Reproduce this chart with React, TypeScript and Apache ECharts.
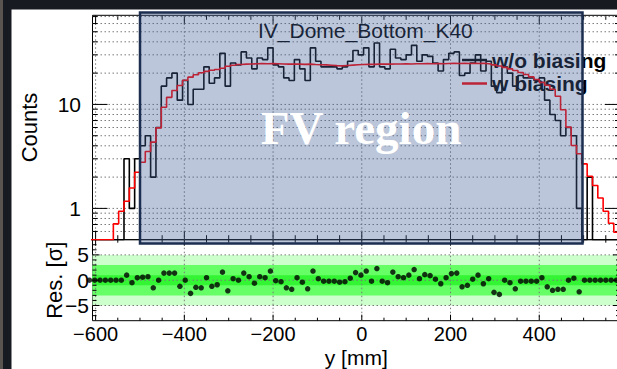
import React, { useEffect, useRef } from 'react';
import * as echarts from 'echarts';

// ---------- data ----------
const binStart = -620; // mm, left edge of first bin
const binWidth = 12; // mm

// "w/o biasing" (black histogram), counts per bin
const woBiasing = [
  0, 0, 0, 0, 0, 0, 0, 3, 1, 3,
  4, 5, 2, 6, 15, 18, 20, 11, 17, 10,
  14, 14, 23, 16, 18, 31, 15, 25, 24, 32,
  28, 22, 28, 27, 35, 24, 23, 18, 17, 27,
  22, 17, 35, 26, 23, 23, 23, 22, 23, 26,
  33, 30, 35, 23, 39, 23, 22, 34, 28, 27,
  30, 37, 26, 30, 29, 25, 21, 27, 31, 32,
  19, 20, 25, 30, 21, 26, 15, 13, 23, 20,
  15, 19, 18, 18, 17, 18, 11, 8, 7, 5,
  6, 5, 1, 0, 2, 0, 0, 0, 0, 0,
];

// "w biasing" (red histogram)
const wBiasing = [
  0, 0, 0, 0, 0, 0.71, 0.94, 1.17, 1.57, 2.23,
  2.78, 3.53, 4.34, 5.95, 9.4, 11.7, 13.6, 15.2, 17.1, 18.3,
  19.3, 20.2, 20.8, 21.3, 21.7, 22.3, 23.3, 23.8, 24.2, 24.4,
  24.5, 24.6, 24.7, 24.6, 24.7, 24.6, 24.5, 24.4, 24.5, 24.4,
  24.3, 24.4, 24.2, 24.1, 24.0, 23.8, 23.6, 23.5, 23.7, 23.9,
  24.1, 24.2, 24.3, 24.3, 24.4, 24.5, 24.4, 24.5, 24.5, 24.6,
  24.5, 24.6, 24.6, 24.7, 24.6, 24.7, 24.6, 24.8, 24.9, 24.8,
  24.9, 24.8, 24.9, 24.8, 24.8, 24.5, 24.0, 23.4, 22.7, 22.0,
  21.2, 20.3, 19.4, 18.4, 17.4, 16.3, 15.3, 14.0, 12.0, 8.9,
  6.05, 4.03, 3.35, 2.68, 2.04, 1.66, 1.26, 0.94, 0.72, 0.59,
];

// residuals in sigma
const residuals = [
  0, 0, 0, 0, 0, 0, 0, 1.0, -0.5, 0.5,
  0.6, 0.7, -1.5, 0, 1.4, 1.4, 1.4, -1.2, 0, -2.6,
  -1.4, -1.5, 0.5, -1.2, -0.9, 1.6, -2.1, 0.3, 0, 1.4,
  0.7, -0.6, 0.7, 0.5, 1.8, -0.1, -0.3, -1.5, -1.8, 0.5,
  -0.4, -1.7, 1.8, 0.3, -0.2, -0.2, -0.2, -0.4, -0.3, 0.4,
  1.5, 1.0, 1.8, -0.2, 2.3, -0.2, -0.5, 1.6, 0.7, 0.5,
  1.0, 2.1, 0.3, 1.1, 0.9, 0.2, -0.7, 0.5, 1.3, 1.4,
  -1.3, -1.0, 0.2, 1.0, -0.7, 0.3, -2.4, -2.8, 0, -0.5,
  -1.7, -0.2, -0.2, -0.2, -0.2, 0.5, -1.3, -2.0, -1.8, -1.8,
  0, 0.4, -2.3, 0, 0, 0, 0, 0, 0, 0,
];

const xMin = -607;
const xMax = 582;
const countMin = 0.5;
const countMax = 72;
const resMin = -8;
const resMax = 8;

const xTicks = [
  -600, -550, -500, -450, -400, -350, -300, -250, -200, -150, -100, -50,
  0, 50, 100, 150, 200, 250, 300, 350, 400, 450, 500, 550,
];
const xMajorTicks = [-600, -400, -200, 0, 200, 400];
const countTicks = [0.6, 0.7, 0.8, 0.9, 1, 2, 3, 4, 5, 6, 7, 8, 9, 10, 20, 30, 40, 50, 60, 70];
const countMajorTicks = [1, 10];
const resTicks = [-7, -6, -5, -4, -3, -2, -1, 0, 1, 2, 3, 4, 5, 6, 7];
const resMajorTicks = [-5, 0, 5];
const sigmaBands = [5, 3, 1];

// ---------- styles ----------
const FONT = '"Liberation Sans", Arial, Helvetica, sans-serif';
const bandColors = ['#ccffcc', '#66ff66', '#33f533'];
const dotted = { stroke: '#7a7a7a', lineWidth: 1, lineDash: [1.5, 2.5] };
const solid = { stroke: '#000', lineWidth: 1 };

const minus = (v: number) => (v < 0 ? '\u2212' + Math.abs(v) : String(v));

function ln(x1: number, y1: number, x2: number, y2: number, style: any) {
  return { type: 'line', shape: { x1, y1, x2, y2 }, style };
}

function stepData(vals: number[]) {
  const pts = vals.map((v, i) => [binStart + i * binWidth, Math.max(v, countMin)]);
  pts.push([binStart + vals.length * binWidth, Math.max(vals[vals.length - 1], countMin)]);
  return pts;
}

function xTickSeries(gi: number, yRef: number, majorLen: number, minorLen: number) {
  return {
    type: 'custom',
    xAxisIndex: gi,
    yAxisIndex: gi,
    z: 1,
    silent: true,
    data: xTicks.map((v) => [v, yRef, xMajorTicks.includes(v) ? 1 : 0]),
    encode: { x: 0, y: 1 },
    renderItem: (params: any, api: any) => {
      const cs = params.coordSys;
      const x = api.coord([api.value(0), yRef])[0];
      const major = api.value(2) === 1;
      const len = major ? majorLen : minorLen;
      const top = cs.y;
      const bot = cs.y + cs.height;
      const children: any[] = [];
      if (major) children.push(ln(x, top, x, bot, dotted));
      children.push(ln(x, bot, x, bot - len, solid));
      children.push(ln(x, top, x, top + len, solid));
      return { type: 'group', children };
    },
  };
}

function yTickSeries(gi: number, ticks: number[], majors: number[], majorLen: number, minorLen: number, gridAtAll: boolean) {
  return {
    type: 'custom',
    xAxisIndex: gi,
    yAxisIndex: gi,
    z: 1,
    silent: true,
    data: ticks.map((v) => [xMin, v, majors.includes(v) ? 1 : 0]),
    encode: { x: 0, y: 1 },
    renderItem: (params: any, api: any) => {
      const cs = params.coordSys;
      const y = api.coord([api.value(0), api.value(1)])[1];
      const major = api.value(2) === 1;
      const len = major ? majorLen : minorLen;
      const left = cs.x;
      const right = cs.x + cs.width;
      const children: any[] = [];
      if (gridAtAll || major) children.push(ln(left, y, right, y, dotted));
      children.push(ln(left, y, left + len, y, solid));
      children.push(ln(right - len, y, right, y, solid));
      return { type: 'group', children };
    },
  };
}

export default function App() {
  const ref = useRef<HTMLDivElement>(null);

  useEffect(() => {
    if (!ref.current) return;
    const chart = echarts.init(ref.current, undefined, { renderer: 'svg' });

    const option: any = {
      animation: false,
      backgroundColor: '#181a22',
      title: {
        text: 'IV_Dome_Bottom_K40',
        left: 258,
        top: 20,
        padding: 0,
        textStyle: { fontFamily: FONT, fontSize: 21, fontWeight: 'normal', color: '#000' },
      },
      legend: {
        orient: 'vertical',
        left: 462,
        top: 48.5,
        padding: 0,
        itemWidth: 25,
        itemHeight: 2.5,
        itemGap: 0.5,
        selectedMode: false,
        textStyle: { fontFamily: FONT, fontSize: 21, fontWeight: 'bold', color: '#000', lineHeight: 23 },
        data: [
          { name: 'w/o biasing', icon: 'rect', itemStyle: { color: '#000' } },
          { name: 'w biasing', icon: 'rect', itemStyle: { color: '#ff0000' } },
        ],
      },
      grid: [
        { left: 92.5, top: 15.3, width: 527.5, height: 224.4, show: true, borderColor: '#000', borderWidth: 1, backgroundColor: 'transparent', outerBoundsMode: 'none' },
        { left: 92.5, top: 239.7, width: 527.5, height: 81, show: true, borderColor: '#000', borderWidth: 1, backgroundColor: 'transparent', outerBoundsMode: 'none' },
      ],
      xAxis: [
        {
          gridIndex: 0, type: 'value', min: xMin, max: xMax,
          axisLine: { show: false }, axisTick: { show: false }, splitLine: { show: false },
          axisLabel: { show: false },
        },
        {
          gridIndex: 1, type: 'value', min: xMin, max: xMax,
          axisLine: { show: false }, axisTick: { show: false }, splitLine: { show: false },
          axisLabel: {
            show: true, showMinLabel: false, showMaxLabel: false, margin: 5,
            fontFamily: FONT, fontSize: 20, lineHeight: 16, color: '#000', formatter: (v: number) => minus(v),
          },
          name: 'y [mm]', nameLocation: 'middle', nameGap: 26.5, nameMoveOverlap: false,
          nameTextStyle: { fontFamily: FONT, fontSize: 21, lineHeight: 20, color: '#000' },
        },
      ],
      yAxis: [
        {
          gridIndex: 0, type: 'log', logBase: 10, min: countMin, max: countMax,
          axisLine: { show: false }, axisTick: { show: false }, splitLine: { show: false }, minorTick: { show: false },
          axisLabel: {
            show: true, showMinLabel: false, showMaxLabel: false, margin: 11.5,
            fontFamily: FONT, fontSize: 21, color: '#000',
            formatter: (v: number) => {
              const l = Math.log10(v);
              return Math.abs(l - Math.round(l)) < 1e-6 && l > -0.5 ? String(Math.round(v)) : '';
            },
          },
          name: 'Counts', nameLocation: 'middle', nameRotate: 90, nameGap: 52, nameMoveOverlap: false,
          nameTextStyle: { fontFamily: FONT, fontSize: 22, color: '#000' },
        },
        {
          gridIndex: 1, type: 'value', min: resMin, max: resMax, splitNumber: 3,
          axisLine: { show: false }, axisTick: { show: false }, splitLine: { show: false },
          axisLabel: {
            show: true, showMinLabel: false, showMaxLabel: false, margin: 3.5,
            fontFamily: FONT, fontSize: 21, color: '#000', formatter: (v: number) => minus(v),
          },
          name: 'Res. [\u03c3]', nameLocation: 'middle', nameRotate: 90, nameGap: 27.5, nameMoveOverlap: false,
          nameTextStyle: { fontFamily: FONT, fontSize: 22, color: '#000' },
        },
      ],
      series: [
        {
          type: 'custom', xAxisIndex: 1, yAxisIndex: 1, z: 0, silent: true,
          data: sigmaBands.map((s, i) => [xMin, s, i]),
          encode: { x: 0, y: 1 },
          renderItem: (params: any, api: any) => {
            const cs = params.coordSys;
            const s = api.value(1);
            const yTop = api.coord([xMin, s])[1];
            const yBot = api.coord([xMin, -s])[1];
            return {
              type: 'rect',
              shape: { x: cs.x, y: yTop, width: cs.width, height: yBot - yTop },
              style: { fill: bandColors[api.value(2)] },
            };
          },
        },
        xTickSeries(0, 1, 9, 4.5),
        yTickSeries(0, countTicks, countMajorTicks, 15, 5, true),
        xTickSeries(1, 0, 6, 3),
        yTickSeries(1, resTicks, resMajorTicks, 7, 4, false),
        {
          name: 'w/o biasing', type: 'line', xAxisIndex: 0, yAxisIndex: 0, z: 3,
          step: 'end', showSymbol: false, symbol: 'none', clip: true, silent: true,
          color: '#000', lineStyle: { color: '#000', width: 1.6 },
          data: stepData(woBiasing),
        },
        {
          name: 'w biasing', type: 'line', xAxisIndex: 0, yAxisIndex: 0, z: 4,
          step: 'end', showSymbol: false, symbol: 'none', clip: true, silent: true,
          color: '#ff0000', lineStyle: { color: '#ff0000', width: 1.6 },
          data: stepData(wBiasing),
        },
        {
          name: 'residuals', type: 'scatter', xAxisIndex: 1, yAxisIndex: 1, z: 5,
          symbol: 'circle', symbolSize: 5.5, clip: false, silent: true,
          itemStyle: { color: '#000' },
          data: residuals.map((r, i) => [binStart + (i + 0.5) * binWidth, r]),
        },
      ],
      graphic: [
        { type: 'rect', z: -10, silent: true, shape: { x: 11.5, y: 9.5, width: 606, height: 360 }, style: { fill: '#fff' } },
        { type: 'rect', z: -10, silent: true, shape: { x: 0, y: 0, width: 3, height: 369 }, style: { fill: '#5a5450' } },
        {
          type: 'rect', z: 50, silent: true,
          shape: { x: 140, y: 12.5, width: 442.5, height: 231 },
          style: { fill: 'rgba(69,97,153,0.36)', stroke: '#1c2e50', lineWidth: 2.5 },
        },
        {
          type: 'text', z: 51, silent: true, x: 361, y: 128,
          style: {
            text: 'FV region', fill: '#fff',
            font: 'bold 47px "Liberation Serif", "Times New Roman", serif',
            align: 'center', verticalAlign: 'middle', textAlign: 'center', textVerticalAlign: 'middle',
          },
        },
      ],
    };

    chart.setOption(option);
    return () => chart.dispose();
  }, []);

  return <div ref={ref} style={{ position: 'fixed', left: 0, top: 0, width: 617, height: 369 }} />;
}
